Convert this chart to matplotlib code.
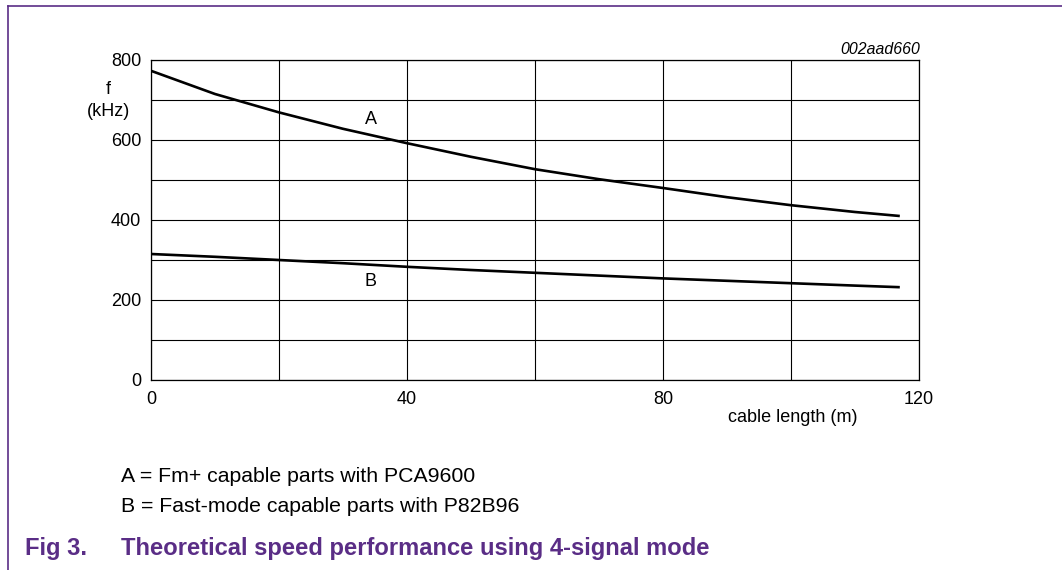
import matplotlib
matplotlib.use("Agg")
import matplotlib.pyplot as plt
from matplotlib.lines import Line2D

plt.rcParams["font.family"] = ["Liberation Sans", "DejaVu Sans"]

PURPLE = "#5a2d86"

# cable length (m) and frequency (kHz)
length_m = [0, 10, 20, 30, 40, 50, 60, 70, 80, 90, 100, 110, 117]
f_a = [773, 715, 669, 628, 592, 558, 527, 502, 480, 457, 437, 420, 410]
f_b = [315, 308, 300, 292, 283, 275, 268, 261, 254, 248, 242, 236, 232]

x_ticks = [0, 40, 80, 120]
y_ticks = [0, 200, 400, 600, 800]

W, H = 1062, 570
fig = plt.figure(figsize=(W / 100, H / 100), dpi=100, facecolor="white")
ax = fig.add_axes([151 / W, 1 - 380 / H, 768 / W, 320 / H])

ax.plot(length_m, f_a, color="black", lw=1.9, solid_capstyle="butt")
ax.plot(length_m, f_b, color="black", lw=1.9, solid_capstyle="butt")

ax.set_xlim(0, 120)
ax.set_ylim(0, 800)
ax.set_xticks(range(0, 121, 20))
ax.set_yticks(range(0, 801, 100))
ax.grid(True, color="black", lw=0.8)
ax.tick_params(length=0, labelbottom=False, labelleft=False)
for s in ax.spines.values():
    s.set_linewidth(0.9)


def px(x, y):
    # figure pixel (from top-left) -> figure fraction
    return x / W, 1 - y / H


fs = 13
for v in x_ticks:
    fig.text(*px(151 + v * 6.4, 399), str(v), ha="center", va="center", fontsize=fs)
for v in y_ticks:
    fig.text(*px(141, 381 - v * 0.4), str(v), ha="right", va="center", fontsize=fs)

fig.text(*px(108, 90), "f", ha="center", va="center", fontsize=fs)
fig.text(*px(108.5, 112), "(kHz)", ha="center", va="center", fontsize=fs)
fig.text(*px(920, 49), "002aad660", ha="right", va="center", fontsize=11.4, style="italic")
fig.text(*px(857, 418), "cable length (m)", ha="right", va="center", fontsize=fs)
fig.text(*px(371, 119.5), "A", ha="center", va="center", fontsize=fs)
fig.text(*px(371, 281.5), "B", ha="center", va="center", fontsize=fs)

fig.text(*px(121, 476), "A = Fm+ capable parts with PCA9600", ha="left", va="center", fontsize=15.3)
fig.text(*px(121, 507), "B = Fast-mode capable parts with P82B96", ha="left", va="center", fontsize=15.3)
fig.text(*px(25, 549), "Fig 3.", ha="left", va="center", fontsize=17.1, fontweight="bold", color=PURPLE)
fig.text(*px(121, 549), "Theoretical speed performance using 4-signal mode", ha="left", va="center",
         fontsize=17.1, fontweight="bold", color=PURPLE)

# purple frame: top and left edges only
fig.add_artist(Line2D([8 / W, 1], [1 - 6 / H, 1 - 6 / H], color=PURPLE, lw=1.2))
fig.add_artist(Line2D([8 / W, 8 / W], [0, 1 - 6 / H], color=PURPLE, lw=1.2))

fig.savefig("out.png", dpi=100, facecolor="white")
